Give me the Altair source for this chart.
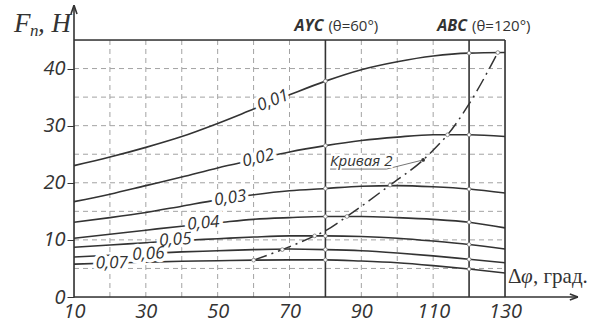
import altair as alt
import pandas as pd

# ---------------- data ----------------
x_vals = [10, 20, 30, 40, 50, 60, 70, 80, 90, 100, 110, 120, 130]
series_names = ["0,01", "0,02", "0,03", "0,04", "0,05", "0,06", "0,07"]
s001 = [23.0, 24.5, 26.2, 28.1, 30.4, 32.9, 35.4, 37.8, 39.8, 41.2, 42.2, 42.7, 42.8]
s002 = [16.7, 18.0, 19.5, 21.0, 22.6, 24.0, 25.4, 26.5, 27.4, 28.0, 28.4, 28.4, 28.1]
s003 = [13.1, 13.9, 14.8, 15.9, 17.0, 17.9, 18.6, 19.0, 19.4, 19.5, 19.3, 18.9, 18.2]
s004 = [10.3, 11.0, 11.7, 12.4, 13.0, 13.6, 13.9, 14.1, 14.1, 13.9, 13.6, 13.1, 12.1]
s005 = [8.7, 9.1, 9.5, 9.9, 10.2, 10.5, 10.7, 10.7, 10.6, 10.3, 9.8, 9.2, 8.4]
s006 = [7.0, 7.3, 7.6, 7.9, 8.1, 8.3, 8.4, 8.3, 8.1, 7.7, 7.2, 6.6, 6.0]
s007 = [5.75, 5.95, 6.1, 6.25, 6.35, 6.45, 6.5, 6.5, 6.3, 6.0, 5.5, 4.9, 4.2]
series_values = [s001, s002, s003, s004, s005, s006, s007]

# "Кривая 2"
c2_x = [60, 68, 77, 80, 86, 98, 107.2, 112, 114, 120, 128]
c2_y = [6.45, 8.3, 10.7, 11.6, 14.1, 19.6, 24.0, 27.0, 28.4, 33.8, 42.8]
c2_marked = [60, 68, 77, 86, 98, 114, 128]
c2_label = "Кривая 2"
c2_label_pos = [81.3, 22.9]
c2_leader_x = [81.3, 97.0, 107.2]
c2_leader_y = [22.4, 22.4, 24.0]

# inline curve labels
label_x = [65.4, 61.3, 53.5, 46.0, 38.2, 30.7, 20.5]
label_y = [34.4, 24.3, 17.3, 12.9, 10.0, 7.5, 5.9]
label_angle = [338, 347, 352, 355, 356, 357, 359]

# header lines
mode_x = [80, 120]
mode_bold = ["AYC", "ABC"]
mode_rest = ["(θ=60°)", "(θ=120°)"]
header_y = 47.4

x_ticks = [10, 30, 50, 70, 90, 110, 130]
y_ticks = [0, 10, 20, 30, 40]
x_grid = [20, 30, 40, 50, 60, 70, 90, 100, 110]
y_grid = [5, 10, 15, 20, 25, 30, 35, 40]
x_min, x_max, y_min, y_max = 10, 130, 0, 45
x_arrow_tip, y_arrow_tip = 150.3, 51.1

# ---------------- tables ----------------
curves = pd.DataFrame(
    [{"x": x, "y": v, "s": n} for n, vals in zip(series_names, series_values) for x, v in zip(x_vals, vals)]
)
c2 = pd.DataFrame({"x": c2_x, "y": c2_y})
labels = pd.DataFrame({"x": label_x, "y": label_y, "t": series_names, "a": label_angle})

markers = []
for vals in series_values:
    for mx in mode_x:
        markers.append({"x": mx, "y": vals[x_vals.index(mx)]})
for xx, yy in zip(c2_x, c2_y):
    if xx in c2_marked:
        markers.append({"x": xx, "y": yy})
markers = pd.DataFrame(markers)

DARK = "#333333"
GRID = "#a3a3a3"
SANS = "Open Sans"
SERIF = "Liberation Serif"

xs = alt.Scale(domain=[x_min, x_max], nice=False, zero=False)
ys = alt.Scale(domain=[y_min, y_max], nice=False)
AX = alt.Axis(values=x_ticks, grid=False, domain=False, ticks=False, labelFont=SANS,
              labelFontStyle="italic", labelFontSize=20, labelColor=DARK, labelPadding=4,
              title=None, labelFlush=False)
AY = alt.Axis(values=y_ticks, grid=False, domain=False, tickSize=7, tickColor=DARK,
              labelFont=SANS, labelFontStyle="italic", labelFontSize=20, labelColor=DARK,
              labelPadding=2, title=None)
X = lambda f="x": alt.X(f"{f}:Q", scale=xs, axis=AX)
Y = lambda f="y": alt.Y(f"{f}:Q", scale=ys, axis=AY)

gv = alt.Chart(pd.DataFrame({"x": x_grid})).mark_rule(color=GRID, strokeWidth=1, strokeDash=[5, 4]).encode(
    x=X(), y=alt.datum(y_min, scale=ys, axis=AY), y2=alt.datum(y_max))
gh = alt.Chart(pd.DataFrame({"y": y_grid})).mark_rule(color=GRID, strokeWidth=1, strokeDash=[5, 4]).encode(
    y=Y(), x=alt.datum(x_min, scale=xs, axis=AX), x2=alt.datum(x_max))

lines = alt.Chart(curves).mark_line(color=DARK, strokeWidth=1.6, interpolate="monotone").encode(
    x=X(), y=Y(), detail="s:N")
c2line = alt.Chart(c2).mark_line(color=DARK, strokeWidth=1.5, interpolate="monotone",
                                 strokeDash=[14, 5, 2, 5]).encode(x=X(), y=Y())

# frame lines: borders, mode verticals, axes with arrows
frame = pd.DataFrame([
    {"x": x_min, "x2": x_max, "y": y_max, "y2": y_max},
    {"x": x_max, "x2": x_max, "y": y_min, "y2": y_max},
    {"x": mode_x[0], "x2": mode_x[0], "y": y_min, "y2": y_max},
    {"x": mode_x[1], "x2": mode_x[1], "y": y_min, "y2": y_max},
    {"x": x_min, "x2": x_arrow_tip, "y": y_min, "y2": y_min},
    {"x": x_min, "x2": x_min, "y": y_min, "y2": y_arrow_tip},
    {"x": x_min - 0.835, "x2": x_min, "y": y_arrow_tip - 1.55, "y2": y_arrow_tip},
    {"x": x_min + 0.835, "x2": x_min, "y": y_arrow_tip - 1.55, "y2": y_arrow_tip},
    {"x": x_arrow_tip - 2.25, "x2": x_arrow_tip, "y": y_min + 0.525, "y2": y_min},
    {"x": x_arrow_tip - 2.25, "x2": x_arrow_tip, "y": y_min - 0.525, "y2": y_min},
])
frame_rules = alt.Chart(frame).mark_rule(color=DARK, strokeWidth=1.6).encode(
    x=X(), x2="x2:Q", y=Y(), y2="y2:Q")

mk = alt.Chart(markers).mark_point(shape="circle", filled=True, fill="white", stroke="#777777",
                                   strokeWidth=0.8, size=14, opacity=1).encode(x=X(), y=Y())

halo = alt.Chart(labels).mark_text(font=SANS, fontStyle="italic", fontSize=17, fill="white",
                                   stroke="white", strokeWidth=7, baseline="middle", align="center").encode(
    x=X(), y=Y(), text="t:N", angle=alt.Angle("a:Q", scale=None))
txt = alt.Chart(labels).mark_text(font=SANS, fontStyle="italic", fontSize=17, color=DARK,
                                  baseline="middle", align="center").encode(
    x=X(), y=Y(), text="t:N", angle=alt.Angle("a:Q", scale=None))

c2lab_df = pd.DataFrame({"x": [c2_label_pos[0]], "y": [c2_label_pos[1]], "t": [c2_label]})
c2halo = alt.Chart(c2lab_df).mark_text(font=SANS, fontStyle="italic", fontSize=15, fill="white",
                                       stroke="white", strokeWidth=4, align="left",
                                       baseline="alphabetic").encode(x=X(), y=Y(), text="t:N")
c2txt = alt.Chart(c2lab_df).mark_text(font=SANS, fontStyle="italic", fontSize=15, color=DARK,
                                      align="left", baseline="alphabetic").encode(x=X(), y=Y(), text="t:N")
leader = alt.Chart(pd.DataFrame({"x": c2_leader_x, "y": c2_leader_y, "o": [0, 1, 2]})).mark_line(
    color="#666666", strokeWidth=0.9).encode(x=X(), y=Y(), order="o:Q")
dot = alt.Chart(pd.DataFrame({"x": [c2_leader_x[-1]], "y": [c2_leader_y[-1]]})).mark_point(
    shape="circle", filled=True, color=DARK, size=14, opacity=1).encode(x=X(), y=Y())

hdr = pd.DataFrame({"x": mode_x, "y": [header_y] * 2, "b": mode_bold, "r": mode_rest})
hdr_b = alt.Chart(hdr).mark_text(font=SANS, fontStyle="italic", fontWeight="bold", fontSize=16,
                                 color=DARK, align="right", baseline="middle", dx=-2).encode(
    x=X(), y=Y(), text="b:N")
hdr_r = alt.Chart(hdr).mark_text(font=SANS, fontSize=15, color=DARK, align="left",
                                 baseline="middle", dx=3).encode(x=X(), y=Y(), text="r:N")

# axis titles (pixel positions relative to plot origin)
def ptext(t, px, py, size, style="italic", font=SERIF, align="left"):
    return alt.Chart(pd.DataFrame({"t": [t]})).mark_text(
        font=font, fontSize=size, fontStyle=style, color=DARK, align=align, baseline="alphabetic"
    ).encode(x=alt.value(px), y=alt.value(py), text="t:N")

PAD_L, PAD_T = 74, 40
yt1 = ptext("F", 14 - PAD_L, 32 - PAD_T, 27)
yt2 = ptext("n", 30 - PAD_L, 36 - PAD_T, 17)
yt3 = ptext(", H", 38 - PAD_L, 32 - PAD_T, 27)
xt1 = ptext("Δ", 508 - PAD_L, 283 - PAD_T, 21, style="normal")
xt2 = ptext("φ", 521 - PAD_L, 283 - PAD_T, 21)
xt3 = ptext(", град.", 533 - PAD_L, 283 - PAD_T, 21, style="normal")

chart = alt.layer(
    gv, gh, lines, c2line, leader, frame_rules, mk, dot, halo, txt, c2halo, c2txt,
    hdr_b, hdr_r, yt1, yt2, yt3, xt1, xt2, xt3
).properties(
    width=431, height=257,
    padding={"left": PAD_L, "top": PAD_T, "right": 103, "bottom": 26},
    autosize=alt.AutoSizeParams(type="none"),
).configure_view(stroke=None).configure(background="white")

chart.save("out.html", embed_options={"renderer": "svg", "actions": False})
